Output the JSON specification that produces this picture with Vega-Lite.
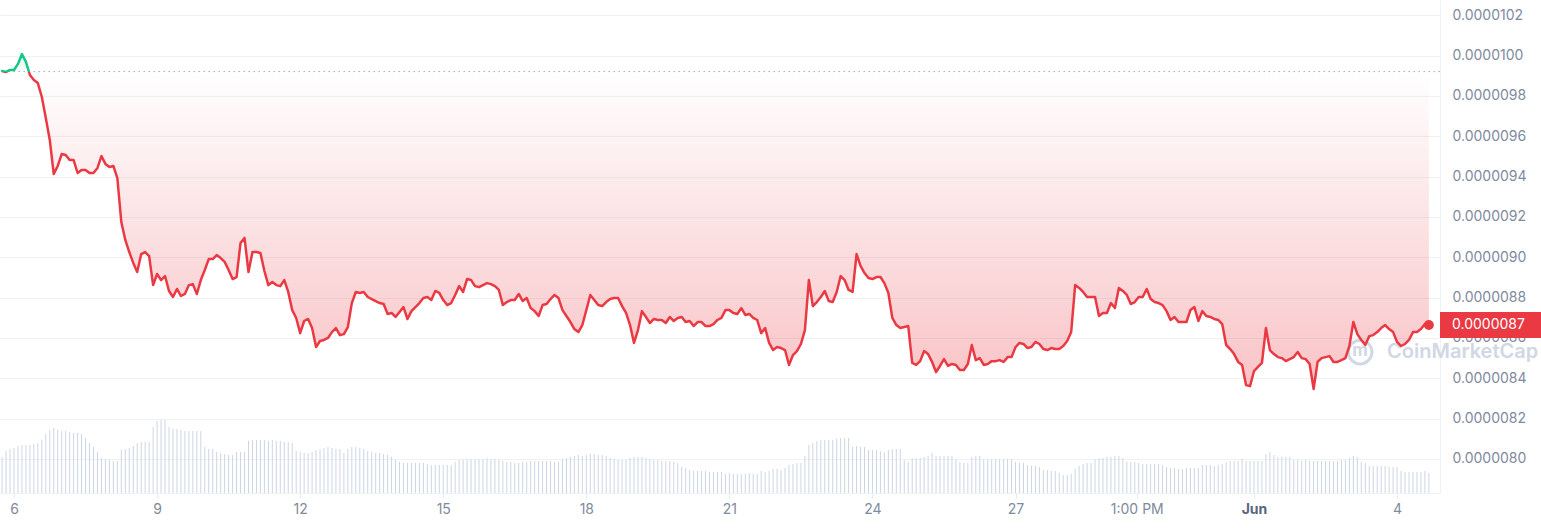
{
"$schema":"https://vega.github.io/schema/vega-lite/v6.json",
"width":1440,"height":493,
"autosize":{"type":"none"},
"padding":{"left":0,"top":0,"right":101,"bottom":35},
"background":"#ffffff",
"config":{"view":{"stroke":null},"font":"Inter"},
"datasets":{"d":[
{"t":-6,"p":9.924e-6,"v":36},{"t":-4,"p":9.919e-6,"v":42},{"t":-2,"p":9.929e-6,"v":44},{"t":0,"p":9.929e-6,"v":45},{"t":2,"p":9.959e-6,"v":47},{"t":4,"p":1.0008e-5,"v":48},{"t":6,"p":9.969e-6,"v":48},{"t":8,"p":9.904e-6,"v":48},{"t":10,"p":9.879e-6,"v":49},{"t":12,"p":9.864e-6,"v":50},
{"t":14,"p":9.795e-6,"v":53},{"t":16,"p":9.691e-6,"v":59},{"t":18,"p":9.582e-6,"v":63},{"t":20,"p":9.413e-6,"v":65},{"t":22,"p":9.453e-6,"v":63},{"t":24,"p":9.512e-6,"v":62},{"t":26,"p":9.507e-6,"v":62},{"t":28,"p":9.482e-6,"v":61},{"t":30,"p":9.482e-6,"v":60},{"t":32,"p":9.418e-6,"v":60},
{"t":34,"p":9.433e-6,"v":59},{"t":36,"p":9.433e-6,"v":55},{"t":38,"p":9.418e-6,"v":50},{"t":40,"p":9.418e-6,"v":46},{"t":42,"p":9.443e-6,"v":41},{"t":44,"p":9.502e-6,"v":35},{"t":46,"p":9.463e-6,"v":34},{"t":48,"p":9.448e-6,"v":33},{"t":50,"p":9.453e-6,"v":32},{"t":52,"p":9.393e-6,"v":32},
{"t":54,"p":9.175e-6,"v":43},{"t":56,"p":9.086e-6,"v":44},{"t":58,"p":9.026e-6,"v":45},{"t":60,"p":8.972e-6,"v":47},{"t":62,"p":8.927e-6,"v":50},{"t":64,"p":9.016e-6,"v":51},{"t":66,"p":9.026e-6,"v":51},{"t":68,"p":9.006e-6,"v":51},{"t":70,"p":8.862e-6,"v":66},{"t":72,"p":8.917e-6,"v":72},
{"t":74,"p":8.887e-6,"v":73},{"t":76,"p":8.907e-6,"v":73},{"t":78,"p":8.833e-6,"v":66},{"t":80,"p":8.803e-6,"v":64},{"t":82,"p":8.843e-6,"v":64},{"t":84,"p":8.808e-6,"v":63},{"t":86,"p":8.818e-6,"v":62},{"t":88,"p":8.862e-6,"v":62},{"t":90,"p":8.867e-6,"v":62},{"t":92,"p":8.818e-6,"v":62},
{"t":94,"p":8.887e-6,"v":62},{"t":96,"p":8.937e-6,"v":46},{"t":98,"p":8.991e-6,"v":44},{"t":100,"p":8.991e-6,"v":44},{"t":102,"p":9.011e-6,"v":41},{"t":104,"p":8.996e-6,"v":40},{"t":106,"p":8.977e-6,"v":39},{"t":108,"p":8.937e-6,"v":38},{"t":110,"p":8.892e-6,"v":38},{"t":112,"p":8.902e-6,"v":41},
{"t":114,"p":9.071e-6,"v":41},{"t":116,"p":9.096e-6,"v":41},{"t":118,"p":8.927e-6,"v":52},{"t":120,"p":9.026e-6,"v":53},{"t":122,"p":9.026e-6,"v":53},{"t":124,"p":9.021e-6,"v":53},{"t":126,"p":8.932e-6,"v":53},{"t":128,"p":8.862e-6,"v":52},{"t":130,"p":8.877e-6,"v":53},{"t":132,"p":8.862e-6,"v":52},
{"t":134,"p":8.857e-6,"v":52},{"t":136,"p":8.887e-6,"v":51},{"t":138,"p":8.828e-6,"v":51},{"t":140,"p":8.738e-6,"v":50},{"t":142,"p":8.699e-6,"v":42},{"t":144,"p":8.624e-6,"v":41},{"t":146,"p":8.684e-6,"v":40},{"t":148,"p":8.694e-6,"v":40},{"t":150,"p":8.649e-6,"v":41},{"t":152,"p":8.555e-6,"v":43},
{"t":154,"p":8.585e-6,"v":44},{"t":156,"p":8.590e-6,"v":45},{"t":158,"p":8.600e-6,"v":46},{"t":160,"p":8.629e-6,"v":45},{"t":162,"p":8.649e-6,"v":44},{"t":164,"p":8.614e-6,"v":44},{"t":166,"p":8.619e-6,"v":40},{"t":168,"p":8.654e-6,"v":44},{"t":170,"p":8.773e-6,"v":46},{"t":172,"p":8.828e-6,"v":46},
{"t":174,"p":8.823e-6,"v":45},{"t":176,"p":8.828e-6,"v":44},{"t":178,"p":8.803e-6,"v":42},{"t":180,"p":8.793e-6,"v":41},{"t":182,"p":8.783e-6,"v":40},{"t":184,"p":8.773e-6,"v":40},{"t":186,"p":8.768e-6,"v":39},{"t":188,"p":8.719e-6,"v":38},{"t":190,"p":8.724e-6,"v":36},{"t":192,"p":8.704e-6,"v":33},
{"t":194,"p":8.729e-6,"v":31},{"t":196,"p":8.753e-6,"v":30},{"t":198,"p":8.694e-6,"v":30},{"t":200,"p":8.733e-6,"v":30},{"t":202,"p":8.753e-6,"v":30},{"t":204,"p":8.773e-6,"v":30},{"t":206,"p":8.798e-6,"v":30},{"t":208,"p":8.803e-6,"v":29},{"t":210,"p":8.788e-6,"v":28},{"t":212,"p":8.833e-6,"v":28},
{"t":214,"p":8.823e-6,"v":28},{"t":216,"p":8.788e-6,"v":28},{"t":218,"p":8.763e-6,"v":28},{"t":220,"p":8.773e-6,"v":28},{"t":222,"p":8.813e-6,"v":31},{"t":224,"p":8.857e-6,"v":33},{"t":226,"p":8.828e-6,"v":33},{"t":228,"p":8.892e-6,"v":34},{"t":230,"p":8.887e-6,"v":34},{"t":232,"p":8.857e-6,"v":34},
{"t":234,"p":8.852e-6,"v":34},{"t":236,"p":8.862e-6,"v":34},{"t":238,"p":8.872e-6,"v":35},{"t":240,"p":8.867e-6,"v":34},{"t":242,"p":8.857e-6,"v":34},{"t":244,"p":8.838e-6,"v":33},{"t":246,"p":8.763e-6,"v":32},{"t":248,"p":8.778e-6,"v":31},{"t":250,"p":8.788e-6,"v":31},{"t":252,"p":8.788e-6,"v":30},
{"t":254,"p":8.818e-6,"v":30},{"t":256,"p":8.783e-6,"v":31},{"t":258,"p":8.798e-6,"v":31},{"t":260,"p":8.748e-6,"v":32},{"t":262,"p":8.733e-6,"v":32},{"t":264,"p":8.709e-6,"v":32},{"t":266,"p":8.763e-6,"v":32},{"t":268,"p":8.768e-6,"v":32},{"t":270,"p":8.793e-6,"v":32},{"t":272,"p":8.813e-6,"v":31},
{"t":274,"p":8.798e-6,"v":31},{"t":276,"p":8.738e-6,"v":34},{"t":278,"p":8.709e-6,"v":35},{"t":280,"p":8.679e-6,"v":36},{"t":282,"p":8.644e-6,"v":37},{"t":284,"p":8.629e-6,"v":38},{"t":286,"p":8.664e-6,"v":37},{"t":288,"p":8.738e-6,"v":38},{"t":290,"p":8.813e-6,"v":39},{"t":292,"p":8.788e-6,"v":39},
{"t":294,"p":8.763e-6,"v":38},{"t":296,"p":8.758e-6,"v":38},{"t":298,"p":8.778e-6,"v":37},{"t":300,"p":8.793e-6,"v":35},{"t":302,"p":8.798e-6,"v":34},{"t":304,"p":8.798e-6,"v":33},{"t":306,"p":8.758e-6,"v":33},{"t":308,"p":8.724e-6,"v":33},{"t":310,"p":8.664e-6,"v":35},{"t":312,"p":8.575e-6,"v":36},
{"t":314,"p":8.639e-6,"v":36},{"t":316,"p":8.733e-6,"v":36},{"t":318,"p":8.704e-6,"v":35},{"t":320,"p":8.674e-6,"v":34},{"t":322,"p":8.694e-6,"v":33},{"t":324,"p":8.689e-6,"v":33},{"t":326,"p":8.689e-6,"v":32},{"t":328,"p":8.674e-6,"v":32},{"t":330,"p":8.704e-6,"v":32},{"t":332,"p":8.684e-6,"v":31},
{"t":334,"p":8.699e-6,"v":30},{"t":336,"p":8.704e-6,"v":26},{"t":338,"p":8.679e-6,"v":25},{"t":340,"p":8.684e-6,"v":23},{"t":342,"p":8.659e-6,"v":22},{"t":344,"p":8.679e-6,"v":22},{"t":346,"p":8.679e-6,"v":22},{"t":348,"p":8.659e-6,"v":22},{"t":350,"p":8.659e-6,"v":21},{"t":352,"p":8.669e-6,"v":21},
{"t":354,"p":8.689e-6,"v":21},{"t":356,"p":8.699e-6,"v":21},{"t":358,"p":8.738e-6,"v":19},{"t":360,"p":8.738e-6,"v":20},{"t":362,"p":8.724e-6,"v":19},{"t":364,"p":8.719e-6,"v":19},{"t":366,"p":8.748e-6,"v":19},{"t":368,"p":8.714e-6,"v":19},{"t":370,"p":8.719e-6,"v":20},{"t":372,"p":8.699e-6,"v":19},
{"t":374,"p":8.689e-6,"v":19},{"t":376,"p":8.624e-6,"v":22},{"t":378,"p":8.649e-6,"v":21},{"t":380,"p":8.575e-6,"v":22},{"t":382,"p":8.540e-6,"v":24},{"t":384,"p":8.555e-6,"v":24},{"t":386,"p":8.550e-6,"v":23},{"t":388,"p":8.540e-6,"v":25},{"t":390,"p":8.466e-6,"v":28},{"t":392,"p":8.515e-6,"v":29},
{"t":394,"p":8.535e-6,"v":30},{"t":396,"p":8.570e-6,"v":30},{"t":398,"p":8.639e-6,"v":37},{"t":400,"p":8.887e-6,"v":48},{"t":402,"p":8.758e-6,"v":50},{"t":404,"p":8.778e-6,"v":52},{"t":406,"p":8.803e-6,"v":53},{"t":408,"p":8.833e-6,"v":53},{"t":410,"p":8.783e-6,"v":53},{"t":412,"p":8.778e-6,"v":53},
{"t":414,"p":8.828e-6,"v":54},{"t":416,"p":8.907e-6,"v":55},{"t":418,"p":8.887e-6,"v":55},{"t":420,"p":8.838e-6,"v":55},{"t":422,"p":8.828e-6,"v":46},{"t":424,"p":9.016e-6,"v":47},{"t":426,"p":8.957e-6,"v":46},{"t":428,"p":8.922e-6,"v":46},{"t":430,"p":8.897e-6,"v":43},{"t":432,"p":8.892e-6,"v":43},
{"t":434,"p":8.902e-6,"v":43},{"t":436,"p":8.902e-6,"v":42},{"t":438,"p":8.872e-6,"v":41},{"t":440,"p":8.823e-6,"v":43},{"t":442,"p":8.699e-6,"v":44},{"t":444,"p":8.664e-6,"v":44},{"t":446,"p":8.649e-6,"v":44},{"t":448,"p":8.654e-6,"v":33},{"t":450,"p":8.659e-6,"v":31},{"t":452,"p":8.476e-6,"v":35},
{"t":454,"p":8.466e-6,"v":35},{"t":456,"p":8.485e-6,"v":35},{"t":458,"p":8.535e-6,"v":36},{"t":460,"p":8.520e-6,"v":37},{"t":462,"p":8.481e-6,"v":40},{"t":464,"p":8.431e-6,"v":37},{"t":466,"p":8.461e-6,"v":37},{"t":468,"p":8.495e-6,"v":37},{"t":470,"p":8.461e-6,"v":37},{"t":472,"p":8.471e-6,"v":37},
{"t":474,"p":8.466e-6,"v":34},{"t":476,"p":8.441e-6,"v":31},{"t":478,"p":8.441e-6,"v":30},{"t":480,"p":8.471e-6,"v":30},{"t":482,"p":8.565e-6,"v":36},{"t":484,"p":8.490e-6,"v":37},{"t":486,"p":8.500e-6,"v":37},{"t":488,"p":8.466e-6,"v":34},{"t":490,"p":8.471e-6,"v":34},{"t":492,"p":8.485e-6,"v":34},
{"t":494,"p":8.485e-6,"v":34},{"t":496,"p":8.490e-6,"v":34},{"t":498,"p":8.481e-6,"v":34},{"t":500,"p":8.505e-6,"v":34},{"t":502,"p":8.505e-6,"v":34},{"t":504,"p":8.555e-6,"v":31},{"t":506,"p":8.575e-6,"v":30},{"t":508,"p":8.570e-6,"v":30},{"t":510,"p":8.550e-6,"v":28},{"t":512,"p":8.555e-6,"v":27},
{"t":514,"p":8.580e-6,"v":27},{"t":516,"p":8.570e-6,"v":26},{"t":518,"p":8.545e-6,"v":23},{"t":520,"p":8.540e-6,"v":23},{"t":522,"p":8.550e-6,"v":22},{"t":524,"p":8.545e-6,"v":22},{"t":526,"p":8.545e-6,"v":20},{"t":528,"p":8.560e-6,"v":18},{"t":530,"p":8.585e-6,"v":18},{"t":532,"p":8.629e-6,"v":19},
{"t":534,"p":8.862e-6,"v":24},{"t":536,"p":8.848e-6,"v":27},{"t":538,"p":8.828e-6,"v":29},{"t":540,"p":8.803e-6,"v":30},{"t":542,"p":8.803e-6,"v":30},{"t":544,"p":8.803e-6,"v":34},{"t":546,"p":8.709e-6,"v":35},{"t":548,"p":8.724e-6,"v":35},{"t":550,"p":8.724e-6,"v":36},{"t":552,"p":8.773e-6,"v":36},
{"t":554,"p":8.748e-6,"v":37},{"t":556,"p":8.848e-6,"v":37},{"t":558,"p":8.833e-6,"v":35},{"t":560,"p":8.813e-6,"v":31},{"t":562,"p":8.768e-6,"v":31},{"t":564,"p":8.778e-6,"v":31},{"t":566,"p":8.803e-6,"v":30},{"t":568,"p":8.803e-6,"v":29},{"t":570,"p":8.843e-6,"v":29},{"t":572,"p":8.793e-6,"v":29},
{"t":574,"p":8.778e-6,"v":29},{"t":576,"p":8.773e-6,"v":29},{"t":578,"p":8.763e-6,"v":28},{"t":580,"p":8.733e-6,"v":26},{"t":582,"p":8.689e-6,"v":25},{"t":584,"p":8.704e-6,"v":25},{"t":586,"p":8.679e-6,"v":24},{"t":588,"p":8.679e-6,"v":24},{"t":590,"p":8.679e-6,"v":25},{"t":592,"p":8.738e-6,"v":25},
{"t":594,"p":8.753e-6,"v":25},{"t":596,"p":8.684e-6,"v":25},{"t":598,"p":8.733e-6,"v":28},{"t":600,"p":8.709e-6,"v":28},{"t":602,"p":8.704e-6,"v":28},{"t":604,"p":8.694e-6,"v":27},{"t":606,"p":8.689e-6,"v":28},{"t":608,"p":8.669e-6,"v":29},{"t":610,"p":8.565e-6,"v":31},{"t":612,"p":8.545e-6,"v":32},
{"t":614,"p":8.520e-6,"v":32},{"t":616,"p":8.481e-6,"v":32},{"t":618,"p":8.466e-6,"v":34},{"t":620,"p":8.366e-6,"v":32},{"t":622,"p":8.361e-6,"v":32},{"t":624,"p":8.436e-6,"v":32},{"t":626,"p":8.456e-6,"v":32},{"t":628,"p":8.476e-6,"v":32},{"t":630,"p":8.649e-6,"v":39},{"t":632,"p":8.540e-6,"v":41},
{"t":634,"p":8.520e-6,"v":38},{"t":636,"p":8.505e-6,"v":36},{"t":638,"p":8.500e-6,"v":36},{"t":640,"p":8.485e-6,"v":36},{"t":642,"p":8.495e-6,"v":36},{"t":644,"p":8.505e-6,"v":33},{"t":646,"p":8.530e-6,"v":33},{"t":648,"p":8.500e-6,"v":32},{"t":650,"p":8.495e-6,"v":33},{"t":652,"p":8.471e-6,"v":32},
{"t":654,"p":8.347e-6,"v":32},{"t":656,"p":8.481e-6,"v":32},{"t":658,"p":8.500e-6,"v":32},{"t":660,"p":8.505e-6,"v":32},{"t":662,"p":8.510e-6,"v":32},{"t":664,"p":8.481e-6,"v":32},{"t":666,"p":8.481e-6,"v":32},{"t":668,"p":8.490e-6,"v":33},{"t":670,"p":8.500e-6,"v":33},{"t":672,"p":8.560e-6,"v":35},
{"t":674,"p":8.679e-6,"v":37},{"t":676,"p":8.619e-6,"v":36},{"t":678,"p":8.590e-6,"v":31},{"t":680,"p":8.565e-6,"v":30},{"t":682,"p":8.609e-6,"v":27},{"t":684,"p":8.614e-6,"v":27},{"t":686,"p":8.629e-6,"v":27},{"t":688,"p":8.649e-6,"v":27},{"t":690,"p":8.664e-6,"v":27},{"t":692,"p":8.644e-6,"v":26},
{"t":694,"p":8.629e-6,"v":26},{"t":696,"p":8.580e-6,"v":26},{"t":698,"p":8.560e-6,"v":22},{"t":700,"p":8.570e-6,"v":21},{"t":702,"p":8.590e-6,"v":21},{"t":704,"p":8.629e-6,"v":21},{"t":706,"p":8.629e-6,"v":21},{"t":708,"p":8.644e-6,"v":21},{"t":710,"p":8.669e-6,"v":22},{"t":712,"p":8.664e-6,"v":20}
]},
"data":{"name":"d"},
"layer":[
{"mark":{"type":"rule","color":"#cdd5e3","strokeWidth":1},
 "encoding":{
  "x":{"field":"t","type":"quantitative","scale":{"domain":[-7.05,717.6],"nice":false,"zero":false},
   "axis":{"values":[0,72,144,216,288,360,432,504,565,624,696],
    "labelExpr":"datum.value == 565 ? '1:00 PM' : datum.value == 624 ? 'Jun' : datum.value == 696 ? '4' : format(6 + datum.value / 24, 'd')",
    "grid":false,"title":null,"tickSize":5,"tickColor":"#e6e9ee","domainColor":"#eff2f5","labelFontSize":14,"labelPadding":4,
    "labelFlush":false,"labelOverlap":false,"labelBound":false,
    "labelColor":{"condition":{"test":"datum.value == 624","value":"#58667e"},"value":"#808a9d"},
    "labelFontWeight":{"condition":{"test":"datum.value == 624","value":"bold"},"value":"normal"}}},
  "y":{"field":"v","type":"quantitative","scale":{"domain":[0,493],"nice":false},"axis":null},
  "y2":{"datum":0}}},
{"encoding":{"y":{"field":"p","type":"quantitative","scale":{"domain":[7.831e-6,1.0276e-5],"nice":false,"zero":false},
   "axis":{"orient":"right","title":null,"values":[8e-6,8.2e-6,8.4e-6,8.6e-6,8.8e-6,9e-6,9.2e-6,9.4e-6,9.6e-6,9.8e-6,1e-5,1.02e-5],
    "format":".7f","ticks":false,"labelPadding":12,"labelColor":"#808a9d","labelFontSize":14,"labelFlush":false,"labelOverlap":false,
    "grid":true,"gridColor":"#eff2f5","domain":true,"domainColor":"#eff2f5"}}},
 "layer":[
  {"mark":{"type":"area","fill":{"gradient":"linear","x1":0,"y1":0,"x2":0,"y2":1,
     "stops":[{"offset":0,"color":"rgba(22,199,132,0.12)"},{"offset":0.0524,"color":"rgba(22,199,132,0.04)"},{"offset":0.0524,"color":"rgba(234,57,67,0.0)"},{"offset":1,"color":"rgba(234,57,67,0.3)"}]}},
   "encoding":{"x":{"field":"t","type":"quantitative"},"y2":{"datum":9.921e-6}}},
  {"data":{"values":[{"base":9.921e-6}]},
   "mark":{"type":"rule","color":"#a6abb5","strokeWidth":1,"strokeDash":[1.5,3.5]},
   "encoding":{"y":{"field":"base","type":"quantitative"}}},
  {"data":{"values":[{"t":677.4,"p":8.53e-6,"name":"CoinMarketCap"}]},
   "layer":[
    {"mark":{"type":"point","shape":"circle","filled":false,"stroke":"#c9d1e0","strokeWidth":3,"size":560,"opacity":0.85},
     "encoding":{"x":{"field":"t","type":"quantitative"}}},
    {"mark":{"type":"text","text":"m","fontSize":17,"fontWeight":"bold","color":"#c9d1e0","opacity":0.85,"baseline":"middle","align":"center","dy":-1},
     "encoding":{"x":{"field":"t","type":"quantitative"}}},
    {"mark":{"type":"text","fontSize":20,"fontWeight":600,"color":"#c9d1e0","opacity":0.85,"baseline":"middle","align":"left","dx":27},
     "encoding":{"x":{"field":"t","type":"quantitative"},"text":{"field":"name"}}}
   ]},
  {"mark":{"type":"line","strokeWidth":2.5,"strokeJoin":"round","strokeCap":"round","stroke":{"gradient":"linear","x1":0,"y1":0,"x2":0,"y2":1,
     "stops":[{"offset":0,"color":"#16c784"},{"offset":0.0524,"color":"#16c784"},{"offset":0.0524,"color":"#ea3943"},{"offset":1,"color":"#ea3943"}]}},
   "encoding":{"x":{"field":"t","type":"quantitative"}}},
  {"data":{"values":[{"t":712,"p":8.664e-6,"label":"0.0000087","top":8.7285e-6,"bottom":8.5995e-6,"x0":717.6,"x1":768.5}]},
   "layer":[
    {"mark":{"type":"point","shape":"circle","filled":true,"color":"#ea3943","size":100,"opacity":1},
     "encoding":{"x":{"field":"t","type":"quantitative"}}},
    {"mark":{"type":"rect","color":"#ea3943"},
     "encoding":{"x":{"field":"x0","type":"quantitative"},"x2":{"field":"x1"},"y":{"field":"top","type":"quantitative"},"y2":{"field":"bottom"}}},
    {"mark":{"type":"text","color":"#ffffff","fontSize":14,"align":"left","baseline":"middle","dx":12},
     "encoding":{"x":{"field":"x0","type":"quantitative"},"text":{"field":"label"}}}
   ]}
 ]}
],
"resolve":{"scale":{"y":"independent"}}
}
